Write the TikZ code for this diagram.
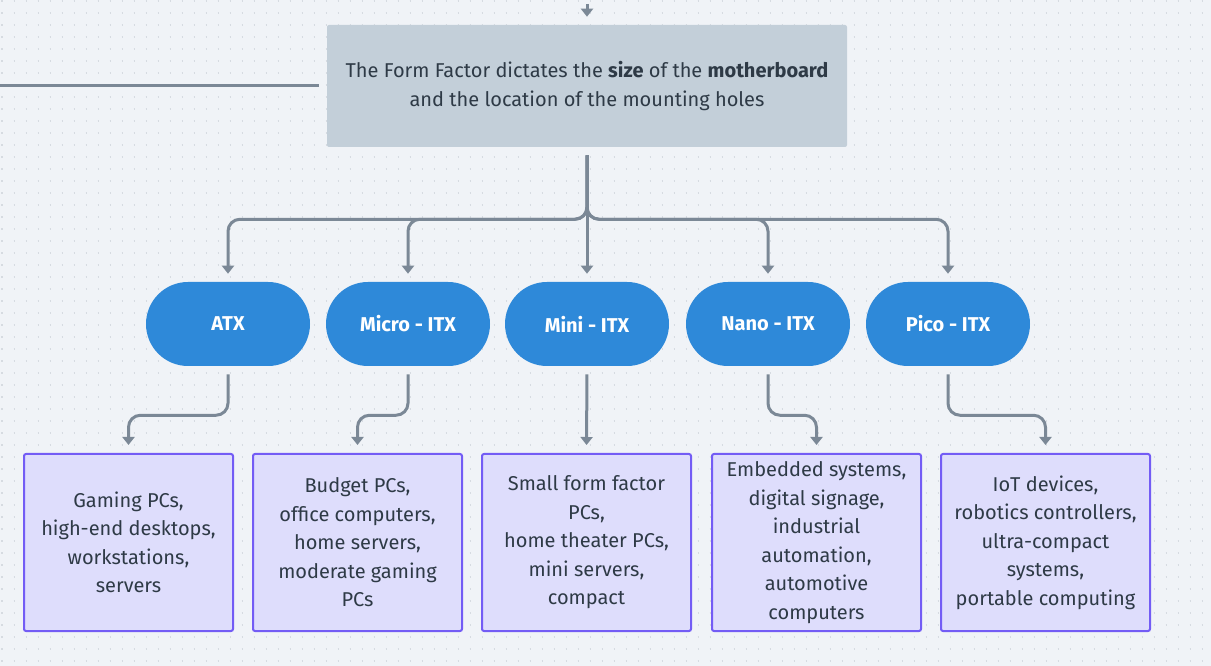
\documentclass[tikz,border=0pt]{standalone}
\usepackage{fontspec}
\setmainfont{Fira Sans}
\usetikzlibrary{arrows.meta}
\definecolor{bgpaper}{HTML}{F0F3F7}
\definecolor{griddot}{HTML}{D6DBE1}
\definecolor{notefill}{HTML}{C3CFD9}
\definecolor{inktext}{HTML}{2E3A46}
\definecolor{wirecol}{HTML}{7B8896}
\definecolor{pillblue}{HTML}{2E89D9}
\definecolor{usefill}{HTML}{DEDDFC}
\definecolor{useedge}{HTML}{735CF5}
\begin{document}
\begin{tikzpicture}[x=0.75pt, y=-0.75pt,
  font=\fontsize{15}{21.4}\selectfont, text=inktext,
  note/.style={fill=notefill, minimum width=390pt, minimum height=91.5pt, align=center, rounded corners=1.5pt},
  factor/.style={fill=pillblue, rounded corners=31.5pt, minimum width=123pt, minimum height=63pt, text=white, font=\fontsize{15}{16}\selectfont\bfseries},
  usage/.style={draw=useedge, fill=usefill, line width=1.5pt, rounded corners=1.5pt, minimum width=156.75pt, minimum height=132.75pt, align=center},
  wire/.style={draw=wirecol, line width=2.25pt, rounded corners=9pt, shorten <=6pt, shorten >=6pt, -{Triangle[width=9pt,length=6pt]}}]
\useasboundingbox (0,0) rectangle (1211,666);
\fill[bgpaper] (0,0) rectangle (1211,666);
% dotted background
\foreach \gy in {1,13,...,666}
  \draw[griddot, line width=1.1pt, dash pattern=on 1.1pt off 7.9pt] (1.5,\gy) -- (1211,\gy);
% header note
\node[note] (form) at (587,86) {The Form Factor dictates the \textbf{size} of the \textbf{motherboard}\\and the location of the mounting holes};
\coordinate (intop) at (587,-4);
\coordinate (inleft) at (0,86);
\draw[wire] (intop) -- (form.north);
\draw[wire, -, shorten <=0pt] (inleft) -- (form.west);
% form factors
\node[factor] (atx) at (228,324) {ATX};
\node[factor] (micro) at (408,324) {Micro - ITX};
\node[factor] (mini) at (587,324) {Mini - ITX};
\node[factor] (nano) at (768,324) {Nano - ITX};
\node[factor] (pico) at (948,324) {Pico - ITX};
\draw[wire] (form.south) -- ++(0,72) -| (atx.north);
\draw[wire] (form.south) -- ++(0,72) -| (micro.north);
\draw[wire] (form.south) -- (mini.north);
\draw[wire] (form.south) -- ++(0,72) -| (nano.north);
\draw[wire] (form.south) -- ++(0,72) -| (pico.north);
% typical uses
\node[usage] (atxuse) at (128.5,542.5) {Gaming PCs,\\high-end desktops,\\workstations,\\servers};
\node[usage] (microuse) at (357.5,542.5) {Budget PCs,\\office computers,\\home servers,\\moderate gaming\\PCs};
\node[usage] (miniuse) at (586.5,542.5) {Small form factor\\PCs,\\home theater PCs,\\mini servers,\\compact};
\node[usage] (nanouse) at (816.5,542.5) {Embedded systems,\\digital signage,\\industrial\\automation,\\automotive\\computers};
\node[usage] (picouse) at (1045.5,542.5) {IoT devices,\\robotics controllers,\\ultra-compact\\systems,\\portable computing};
\draw[wire] (atx.south) -- ++(0,49) -| (atxuse.north);
\draw[wire] (micro.south) -- ++(0,49) -| (microuse.north);
\draw[wire] (mini.south) -- (miniuse.north);
\draw[wire] (nano.south) -- ++(0,49) -| (nanouse.north);
\draw[wire] (pico.south) -- ++(0,49) -| (picouse.north);
\end{tikzpicture}
\end{document}
